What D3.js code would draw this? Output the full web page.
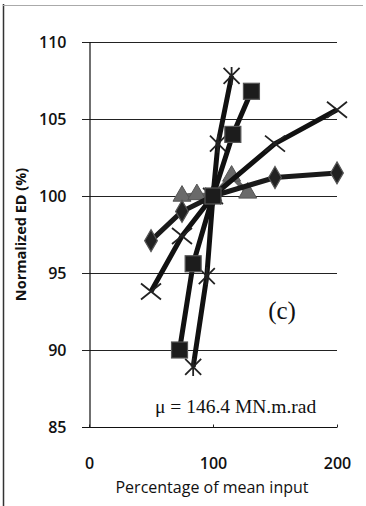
<!DOCTYPE html>
<html>
<head>
<meta charset="utf-8">
<script src="https://cdn.jsdelivr.net/npm/d3@7"></script>
<style>
  html, body { margin: 0; padding: 0; background: #fff; }
  svg { display: block; }
</style>
</head>
<body>
<svg id="chart" width="366" height="506"></svg>
<script>
// Sensitivity of normalized ED to each input, as a percentage of its mean
const xTicks = [0, 100, 200];
const yTicks = [85, 90, 95, 100, 105, 110];

const triX = [75, 87, 100, 115, 128];
const triY = [100.0, 100.1, 100.0, 101.3, 100.2];

const diamondX = [50, 75, 100, 150, 200];
const diamondY = [97.1, 99.0, 100.0, 101.2, 101.5];

const crossX = [50, 75, 100, 150, 200];
const crossY = [93.8, 97.4, 100.0, 103.4, 105.6];

const starX = [84, 95, 100, 104, 115];
const starY = [88.9, 94.8, 100.0, 103.4, 107.8];

const squareX = [73, 84, 100, 116, 131];
const squareY = [90.0, 95.6, 100.0, 104.0, 106.8];

const svg = d3.select("#chart");

const x = d3.scaleLinear().domain([0, 200]).range([89, 337]);
const y = d3.scaleLinear().domain([85, 110]).range([427, 42]);

// outer frame (left and top edges)
svg.append("line").attr("x1", 3.5).attr("x2", 3.5).attr("y1", 4).attr("y2", 506)
  .attr("stroke", "#333").attr("stroke-width", 1.5);
svg.append("line").attr("x1", 3).attr("x2", 363).attr("y1", 5.5).attr("y2", 5.5)
  .attr("stroke", "#aaa").attr("stroke-width", 1);

// horizontal gridlines
svg.append("g").selectAll("line").data(yTicks.filter(d => d > 85)).join("line")
  .attr("x1", 82).attr("x2", x(200))
  .attr("y1", d => y(d) + 0.5).attr("y2", d => y(d) + 0.5)
  .attr("stroke", "#222").attr("stroke-width", 1);

// y axis
const yAxis = d3.axisLeft(y).tickValues(yTicks).tickSize(7).tickPadding(16);
const gy = svg.append("g").attr("transform", `translate(${x(0) + 0.5},0)`).call(yAxis);
gy.select(".domain").attr("stroke", "#111").attr("stroke-width", 1.2);
gy.selectAll(".tick line").attr("stroke", "#222");
gy.selectAll("text").attr("font-family", "'Open Sans', sans-serif")
  .attr("font-size", 16).attr("font-weight", 600).attr("fill", "#111");

// x axis
const xAxis = d3.axisBottom(x).tickValues(xTicks).tickSize(-3).tickPadding(30);
const gx = svg.append("g").attr("transform", `translate(0,${y(85) + 0.5})`).call(xAxis);
gx.select(".domain").attr("d", `M82,0H${x(200)}`).attr("stroke", "#111").attr("stroke-width", 1.2);
gx.selectAll(".tick line").attr("stroke", "#222");
gx.selectAll("text").attr("font-family", "'Open Sans', sans-serif")
  .attr("font-size", 16).attr("font-weight", 600).attr("fill", "#111");

// axis titles
svg.append("text")
  .attr("transform", `translate(26,${(y(85) + y(110)) / 2}) rotate(-90)`)
  .attr("text-anchor", "middle")
  .attr("font-family", "'Open Sans', sans-serif").attr("font-size", 14.5).attr("font-weight", 700)
  .attr("fill", "#111").text("Normalized ED (%)");
svg.append("text")
  .attr("x", 212).attr("y", 493).attr("text-anchor", "middle")
  .attr("font-family", "'Open Sans', sans-serif").attr("font-size", 16)
  .attr("fill", "#111").text("Percentage of mean input");

// annotations
svg.append("text").attr("x", 282).attr("y", 319).attr("text-anchor", "middle")
  .attr("font-family", "'Liberation Serif', serif").attr("font-size", 25)
  .attr("fill", "#111").text("(c)");
svg.append("text").attr("x", 155).attr("y", 413)
  .attr("font-family", "'Liberation Serif', serif").attr("font-size", 19.5)
  .attr("fill", "#111").text("\u03bc = 146.4 MN.m.rad");

const line = d3.line().x(d => x(d[0])).y(d => y(d[1]));
const zip = (xs, ys) => xs.map((v, i) => [v, ys[i]]);

function series(xs, ys, color, width) {
  const pts = zip(xs, ys);
  svg.append("path").datum(pts).attr("d", line)
    .attr("fill", "none").attr("stroke", color).attr("stroke-width", width)
    .attr("stroke-linejoin", "round");
  return svg.append("g").selectAll("g").data(pts).join("g")
    .attr("transform", d => `translate(${x(d[0])},${y(d[1])})`);
}

// triangles (grey)
series(triX, triY, "#666", 4.5).append("path")
  .attr("d", d3.symbol(d3.symbolTriangle, 140)())
  .attr("fill", "#6a6a6a").attr("stroke", "#555").attr("stroke-width", 1);

// diamonds
series(diamondX, diamondY, "#1a1a1a", 5).append("path")
  .attr("d", d3.symbol(d3.symbolDiamond, 140)())
  .attr("fill", "#222").attr("stroke", "#555").attr("stroke-width", 1.2);

// crosses
series(crossX, crossY, "#111", 5).append("path")
  .attr("d", "M-10,-8L10,8M-10,8L10,-8")
  .attr("stroke", "#222").attr("stroke-width", 1.8).attr("fill", "none");

// asterisks
series(starX, starY, "#111", 5).append("path")
  .attr("d", "M-8,-8L8,8M-8,8L8,-8M0,-9L0,9")
  .attr("stroke", "#222").attr("stroke-width", 1.8).attr("fill", "none");

// squares
series(squareX, squareY, "#111", 5).append("rect")
  .attr("x", -8).attr("y", -8).attr("width", 16).attr("height", 16)
  .attr("fill", "#1c1c1c").attr("stroke", "#555").attr("stroke-width", 1.2);
</script>
</body>
</html>
